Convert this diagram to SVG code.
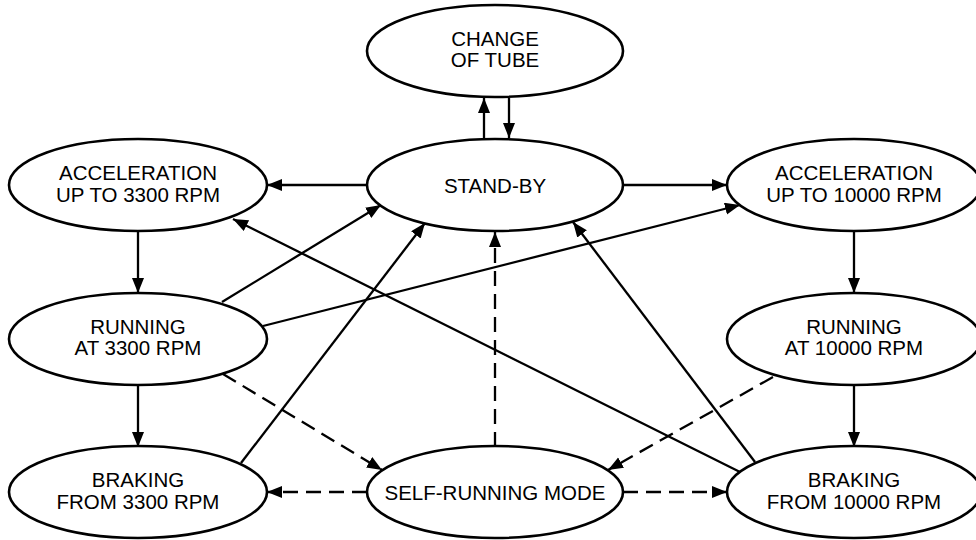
<svg xmlns="http://www.w3.org/2000/svg" width="976" height="540" viewBox="0 0 976 540">
<style>
.node ellipse{fill:#fff;stroke:#000;stroke-width:2.6}
.node text{font-family:"Liberation Sans",Arial,sans-serif;font-size:20.5px;fill:#000;text-anchor:middle}
.edge{fill:none;stroke:#000;stroke-width:2.3;marker-end:url(#ah)}
.dash{stroke-dasharray:15 8}
</style>
<defs>
<marker id="ah" markerUnits="userSpaceOnUse" markerWidth="16" markerHeight="13" refX="15" refY="6" orient="auto">
<path d="M0,0 L15,6 L0,12 z" fill="#000"/>
</marker>
</defs>
<rect width="976" height="540" fill="#fff"/>
<g id="connectors">
<path class="edge" d="M484,139 L484,98"/>
<path class="edge" d="M509,98 L509,138"/>
<path class="edge" d="M367,185 L267,185"/>
<path class="edge" d="M623,185 L727,185"/>
<path class="edge" d="M138,231 L138,293"/>
<path class="edge" d="M854,231 L854,293"/>
<path class="edge" d="M138,385 L138,447"/>
<path class="edge" d="M854,385 L854,447"/>
<path class="edge" d="M222,302 L381,205"/>
<path class="edge" d="M263,326 L740,205"/>
<path class="edge" d="M740,472 L233,219"/>
<path class="edge" d="M241,463 L425,223"/>
<path class="edge" d="M755,462 L573,222"/>
<path class="edge dash" d="M495,447 L495,232"/>
<path class="edge dash" d="M223,374 L382,470"/>
<path class="edge dash" d="M773,377 L608,470"/>
<path class="edge dash" d="M367,492 L267,492"/>
<path class="edge dash" d="M623,492 L727,492"/>
</g>
<g id="change-of-tube" class="node"><ellipse cx="495" cy="51" rx="128" ry="46"/><text x="495" y="45.5">CHANGE</text><text x="495" y="67">OF TUBE</text></g>
<g id="stand-by" class="node"><ellipse cx="495" cy="185" rx="128" ry="46"/><text x="495" y="192.5">STAND-BY</text></g>
<g id="accel-3300" class="node"><ellipse cx="138" cy="185" rx="129" ry="46"/><text x="138" y="180">ACCELERATION</text><text x="138" y="201.5">UP TO 3300 RPM</text></g>
<g id="accel-10000" class="node"><ellipse cx="854" cy="185" rx="127" ry="46"/><text x="854" y="180">ACCELERATION</text><text x="854" y="201.5">UP TO 10000 RPM</text></g>
<g id="running-3300" class="node"><ellipse cx="138" cy="339" rx="129" ry="46"/><text x="138" y="333.5">RUNNING</text><text x="138" y="355">AT 3300 RPM</text></g>
<g id="running-10000" class="node"><ellipse cx="854" cy="339" rx="127" ry="46"/><text x="854" y="333.5">RUNNING</text><text x="854" y="355">AT 10000 RPM</text></g>
<g id="braking-3300" class="node"><ellipse cx="138" cy="492" rx="129" ry="46"/><text x="138" y="487">BRAKING</text><text x="138" y="508.5">FROM 3300 RPM</text></g>
<g id="self-running" class="node"><ellipse cx="495" cy="492" rx="128" ry="46"/><text x="495" y="499.5">SELF-RUNNING MODE</text></g>
<g id="braking-10000" class="node"><ellipse cx="854" cy="492" rx="127" ry="46"/><text x="854" y="487">BRAKING</text><text x="854" y="508.5">FROM 10000 RPM</text></g>
</svg>
